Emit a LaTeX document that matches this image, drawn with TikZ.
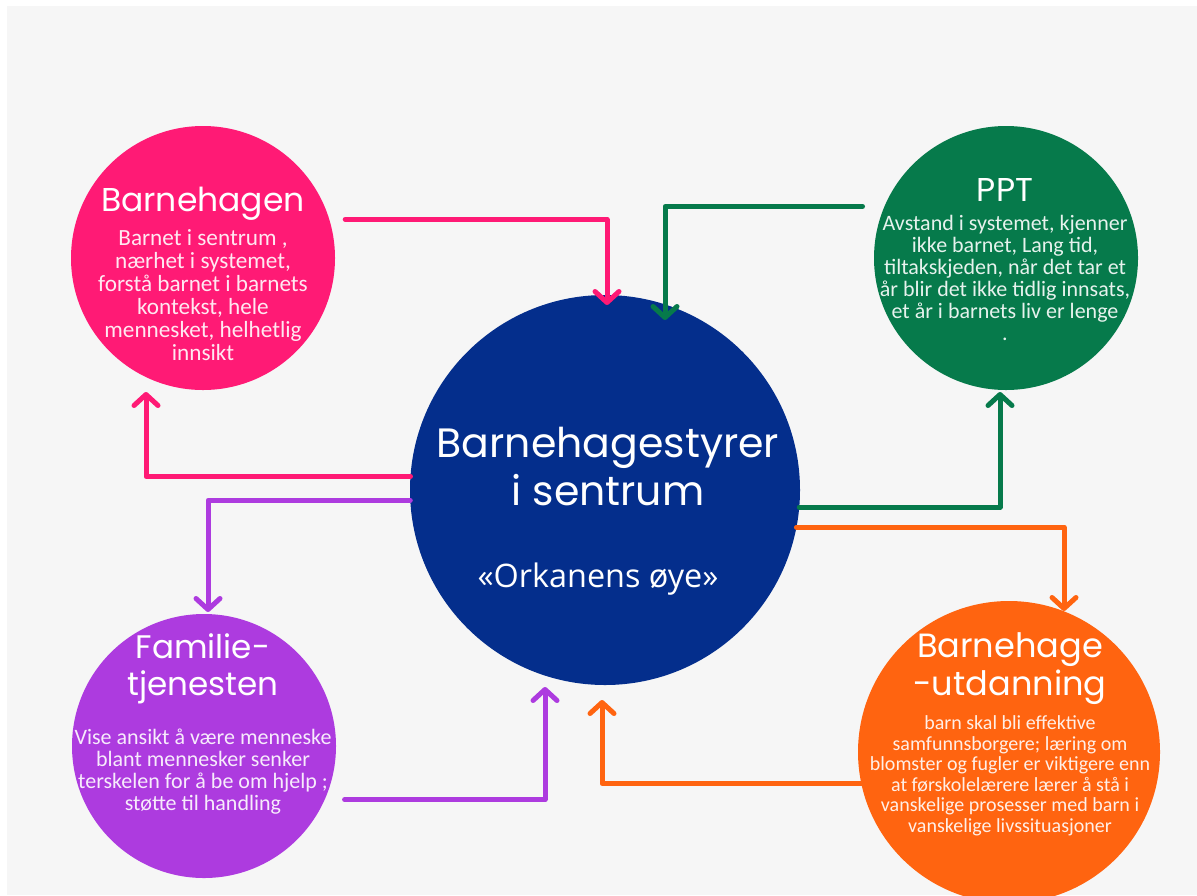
\documentclass[tikz,border=0pt]{standalone}
\usepackage{fontspec}
\setmainfont{Poppins}
\newfontfamily\notefont{Carlito}
\newfontfamily\quotefont{Open Sans}
\usetikzlibrary{arrows.meta,calc}

\definecolor{canvas}{HTML}{F6F6F6}
\definecolor{hagepink}{HTML}{FF1A75}
\definecolor{pptgreen}{HTML}{067A4B}
\definecolor{styrerblue}{HTML}{042E8C}
\definecolor{famviolet}{HTML}{AD3BDF}
\definecolor{utdorange}{HTML}{FF6410}

\tikzset{
  bubble/.style={circle, fill=#1, draw=none, inner sep=0pt, outer sep=0pt},
  heading/.style={text=white, align=center, anchor=base, inner sep=0pt},
  note/.style={text=white!90!#1, align=center, anchor=base, inner sep=0pt},
  link/.style={draw=#1, line width=2.5pt, line cap=round, line join=round,
    -{Straight Barb[length=5.5pt,width=12pt,round]}}
}

\begin{document}
\begin{tikzpicture}[x=0.5pt, y=-0.5pt]
  \useasboundingbox (0,0) rectangle (1197,895);
  \fill[white] (0,0) rectangle (1197,895);
  \fill[canvas] (7,6) rectangle (1197,895);

  % circles
  \node[bubble=hagepink, minimum size=132pt] (hagen) at (203,258) {};
  \node[bubble=pptgreen, minimum size=132pt] (ppt) at (1006,258) {};
  \node[bubble=styrerblue, minimum size=195pt] (sentrum) at (605,490) {};
  \node[bubble=famviolet, minimum size=132pt] (famil) at (204,746) {};
  \node[bubble=utdorange, minimum size=151pt] (utd) at (1009,752) {};

  % connectors
  \draw[link=hagepink] ([shift={(16,0)}]hagen.17) -| ([shift={(2,10)}]sentrum.north);
  \draw[link=hagepink] (sentrum.176) -| ([shift={(-57,2)}]hagen.south);
  \draw[link=pptgreen] ([shift={(-22,0)}]ppt.157) -| ([shift={(60,25)}]sentrum.north);
  \draw[link=pptgreen] (sentrum.-5) -| ([shift={(-6,2)}]ppt.south);
  \draw[link=famviolet] (sentrum.183) -| ([shift={(4,-2)}]famil.north);
  \draw[link=famviolet] ([shift={(20,0)}]famil.-24) -| ([shift={(-60,2)}]sentrum.south);
  \draw[link=utdorange] (sentrum.-11) -| ([shift={(55,10)}]utd.north);
  \draw[link=utdorange] (utd.192.6) -| ([shift={(-3,15)}]sentrum.south);

  % texts (base = last line)
  \node[heading, font=\fontsize{16.5}{20}\selectfont] (hagen-t) at (203,211) {Barnehagen};
  \node[note=hagepink, font=\notefont\fontsize{11.6}{11.5}\selectfont] (hagen-n) at (203,360)
    {Barnet i sentrum ,\\nærhet i systemet,\\forstå barnet i barnets\\kontekst, hele\\mennesket, helhetlig\\innsikt};

  \node[heading, font=\fontsize{16.5}{20}\selectfont] (ppt-t) at (1005,201) {PPT};
  \node[note=pptgreen, font=\notefont\fontsize{11}{11}\selectfont] (ppt-n) at (1005,340)
    {Avstand i systemet, kjenner\\ikke barnet, Lang tid,\\tiltakskjeden, når det tar et\\år blir det ikke tidlig innsats,\\et år i barnets liv er lenge\\.};

  \node[heading, font=\fontsize{20.5}{24}\selectfont] (sentrum-t) at (608,505) {Barnehagestyrer\\i sentrum};
  \node[heading, font=\quotefont\fontsize{16.2}{20}\selectfont] (sentrum-q) at (598,587) {«Orkanens øye»};

  \node[heading, font=\fontsize{16.3}{18.5}\selectfont] (famil-t) at (203,695) {Familie-\\tjenesten};
  \node[note=famviolet, font=\notefont\fontsize{11}{11}\selectfont] (famil-n) at (203,810)
    {Vise ansikt å være menneske\\blant mennesker senker\\terskelen for å be om hjelp ;\\støtte til handling};

  \node[heading, font=\fontsize{16.8}{19}\selectfont] (utd-t) at (1010,695) {Barnehage\\-utdanning};
  \node[note=utdorange, font=\notefont\fontsize{10}{10.25}\selectfont] (utd-n) at (1010,832)
    {barn skal bli effektive\\samfunnsborgere; læring om\\blomster og fugler er viktigere enn\\at førskolelærere lærer å stå i\\vanskelige prosesser med barn i\\vanskelige livssituasjoner};
\end{tikzpicture}
\end{document}
